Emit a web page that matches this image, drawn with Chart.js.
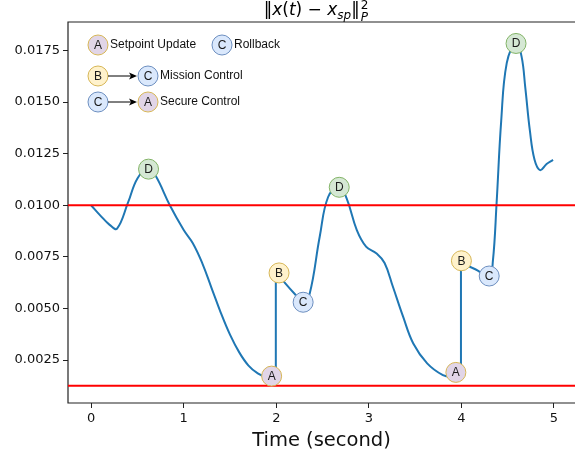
<!DOCTYPE html>
<html>
<head>
<meta charset="utf-8">
<script src="https://cdn.jsdelivr.net/npm/chart.js@4/dist/chart.umd.min.js"></script>
<style>
    html, body { margin: 0; padding: 0; background: #fff; }
    canvas { display: block; }
</style>
</head>
<body>
<canvas id="errChart" width="575" height="457"></canvas>
<script>
// curve: time (s) and ||x(t) - x_sp||^2_P
const timeS = [0, 0.1, 0.2, 0.28, 0.4, 0.5, 0.62, 0.7, 0.85, 1.0, 1.1, 1.2, 1.3, 1.4, 1.5, 1.6, 1.7, 1.8, 1.9, 1.99,
    1.995, 2.1, 2.2, 2.29, 2.36, 2.47, 2.56, 2.68, 2.76, 2.87, 2.97, 3.08, 3.17, 3.26, 3.37, 3.48, 3.63, 3.8, 3.9, 3.99,
    3.995, 4.15, 4.3, 4.34, 4.38, 4.43, 4.49, 4.59, 4.65, 4.69, 4.74, 4.79, 4.85, 4.92, 4.99];
const errNorm = [0.0100, 0.0095, 0.00905, 0.00887, 0.01015, 0.0113, 0.0118, 0.0114, 0.0100, 0.0088, 0.00815, 0.0072, 0.0060, 0.0048, 0.00373, 0.00287, 0.00223, 0.00185, 0.00165, 0.0016,
    0.0068, 0.0062, 0.0057, 0.0053, 0.0057, 0.0085, 0.0104, 0.0109, 0.01033, 0.0088, 0.0080, 0.00767, 0.0072, 0.00605, 0.0046, 0.0033, 0.00234, 0.00177, 0.0017, 0.0018,
    0.0072, 0.0069, 0.00657, 0.0073, 0.0101, 0.0141, 0.0169, 0.0179, 0.0172, 0.0157, 0.0136, 0.0122, 0.0117, 0.0120, 0.0122];

// event markers
const markerT = [0.62, 1.95, 2.03, 2.29, 2.68, 3.94, 4.00, 4.30, 4.59];
const markerV = [0.01175, 0.00172, 0.00672, 0.00530, 0.01087, 0.00190, 0.00731, 0.00657, 0.01784];
const markerLetters = ["D", "A", "B", "C", "D", "A", "B", "C", "D"];

const thresholds = [0.01, 0.00125];
const xTicks = [0, 1, 2, 3, 4, 5];
const yTicks = [0.0025, 0.0050, 0.0075, 0.0100, 0.0125, 0.0150, 0.0175];

const letterFill = { A: "#e1d5e7", B: "#fff2cc", C: "#dae8fc", D: "#d5e8d4" };
const letterStroke = { A: "#d6b656", B: "#d6b656", C: "#6c8ebf", D: "#82b366" };

const xMin = -0.25, xMax = 5.227;
const yMin = 0.000417, yMax = 0.01888;

function drawBubble(ctx, x, y, letter) {
    ctx.beginPath();
    ctx.arc(x, y, 10, 0, Math.PI * 2);
    ctx.fillStyle = letterFill[letter];
    ctx.fill();
    ctx.lineWidth = 1;
    ctx.strokeStyle = letterStroke[letter];
    ctx.stroke();
    ctx.fillStyle = "#1a1a1a";
    ctx.font = "12px 'Liberation Sans', Arial, sans-serif";
    ctx.textAlign = "center";
    ctx.textBaseline = "middle";
    ctx.fillText(letter, x, y + 0.5);
}

function drawArrow(ctx, x1, x2, y) {
    ctx.strokeStyle = "#000";
    ctx.fillStyle = "#000";
    ctx.lineWidth = 1;
    ctx.beginPath();
    ctx.moveTo(x1, y);
    ctx.lineTo(x2 - 6, y);
    ctx.stroke();
    ctx.beginPath();
    ctx.moveTo(x2, y);
    ctx.lineTo(x2 - 8, y - 3.5);
    ctx.lineTo(x2 - 6, y);
    ctx.lineTo(x2 - 8, y + 3.5);
    ctx.closePath();
    ctx.fill();
}

const framePlugin = {
    id: "frame",
    beforeDatasetsDraw(chart) {
        const { ctx, chartArea: a } = chart;
        ctx.save();
        ctx.strokeStyle = "#222";
        ctx.lineWidth = 1.2;
        ctx.beginPath();
        ctx.moveTo(a.right + 5, a.top);
        ctx.lineTo(a.left, a.top);
        ctx.lineTo(a.left, a.bottom);
        ctx.lineTo(a.right + 5, a.bottom);
        ctx.stroke();
        ctx.restore();
    }
};

const bubblePlugin = {
    id: "bubbles",
    afterDatasetsDraw(chart) {
        const ctx = chart.ctx;
        const idx = chart.data.datasets.findIndex(d => d.isMarkers);
        const meta = chart.getDatasetMeta(idx);
        ctx.save();
        meta.data.forEach((pt, i) => drawBubble(ctx, pt.x, pt.y, markerLetters[i]));
        ctx.restore();
    }
};

const legendPlugin = {
    id: "eventLegend",
    afterDraw(chart) {
        const { ctx, chartArea: a } = chart;
        const L = a.left, T = a.top;
        ctx.save();
        drawBubble(ctx, L + 30, T + 23, "A");
        drawBubble(ctx, L + 154, T + 23, "C");
        drawBubble(ctx, L + 30, T + 54, "B");
        drawArrow(ctx, L + 40, L + 69, T + 54);
        drawBubble(ctx, L + 80, T + 54, "C");
        drawBubble(ctx, L + 30, T + 80, "C");
        drawArrow(ctx, L + 40, L + 69, T + 80);
        drawBubble(ctx, L + 80, T + 80, "A");
        ctx.fillStyle = "#111";
        ctx.font = "12px 'Liberation Sans', Arial, sans-serif";
        ctx.textAlign = "left";
        ctx.textBaseline = "middle";
        ctx.fillText("Setpoint Update", L + 42, T + 23);
        ctx.fillText("Rollback", L + 166, T + 23);
        ctx.fillText("Mission Control", L + 92, T + 54);
        ctx.fillText("Secure Control", L + 92, T + 80);
        ctx.restore();
    }
};

const titlePlugin = {
    id: "mathTitle",
    afterDraw(chart) {
        const { ctx, chartArea: a } = chart;
        const big = 17, small = 12;
        const fam = "'DejaVu Sans', sans-serif";
        const pieces = [
            { t: "\u2016", it: false, s: big, dy: 0 },
            { t: "x", it: true, s: big, dy: 0 },
            { t: "(", it: false, s: big, dy: 0 },
            { t: "t", it: true, s: big, dy: 0 },
            { t: ")", it: false, s: big, dy: 0 },
            { t: " \u2212 ", it: false, s: big, dy: 0 },
            { t: "x", it: true, s: big, dy: 0 },
            { t: "sp", it: true, s: small, dy: 4 },
            { t: "\u2016", it: false, s: big, dy: 0 }
        ];
        ctx.save();
        ctx.fillStyle = "#000";
        ctx.textBaseline = "alphabetic";
        ctx.textAlign = "left";
        let total = 0;
        pieces.forEach(p => {
            ctx.font = (p.it ? "italic " : "") + p.s + "px " + fam;
            p.w = ctx.measureText(p.t).width;
            total += p.w;
        });
        ctx.font = small + "px " + fam;
        total += ctx.measureText("2").width;
        let x = (a.left + a.right) / 2 - 6 - total / 2;
        const base = 15;
        pieces.forEach(p => {
            ctx.font = (p.it ? "italic " : "") + p.s + "px " + fam;
            ctx.fillText(p.t, x, base + p.dy);
            x += p.w;
        });
        ctx.font = small + "px " + fam;
        ctx.fillText("2", x + 1, base - 6);
        ctx.font = "italic " + small + "px " + fam;
        ctx.fillText("P", x + 1, base + 6);
        ctx.restore();
    }
};

// split the curve into smooth pieces at the jumps, joined by straight vertical segments
const curveSets = [];
let piece = [];
timeS.forEach((t, i) => {
    const pt = { x: t, y: errNorm[i] };
    if (i > 0 && t - timeS[i - 1] < 0.01) {
        curveSets.push(piece);
        curveSets.push([piece[piece.length - 1], pt]);
        piece = [];
    }
    piece.push(pt);
});
curveSets.push(piece);

const lineStyle = {
    showLine: true,
    borderColor: "#1f77b4",
    borderWidth: 2,
    pointRadius: 0,
    order: 2
};

const markerPts = markerT.map((t, i) => ({ x: t, y: markerV[i] }));
const redSets = thresholds.map(th => ({
    data: [{ x: xMin, y: th }, { x: xMax, y: th }],
    showLine: true,
    borderColor: "#ff0000",
    borderWidth: 2,
    pointRadius: 0,
    order: 1
}));

const tickFont = { family: "'DejaVu Sans', sans-serif", size: 13 };

new Chart(document.getElementById("errChart").getContext("2d"), {
    type: "scatter",
    data: {
        datasets: [
            ...curveSets.map(d => Object.assign({ data: d, tension: d.length > 2 ? 0.4 : 0 }, lineStyle)),
            {
                data: markerPts,
                isMarkers: true,
                showLine: false,
                pointRadius: 0,
                order: 0
            },
            ...redSets
        ]
    },
    options: {
        responsive: false,
        animation: false,
        layout: { padding: { top: 22, right: 0, bottom: 0, left: 0 } },
        plugins: {
            legend: { display: false },
            tooltip: { enabled: false },
            title: { display: false }
        },
        scales: {
            x: {
                type: "linear",
                min: xMin,
                max: xMax,
                afterBuildTicks: s => { s.ticks = xTicks.map(v => ({ value: v })); },
                afterFit: s => { s.height = 54; },
                ticks: { color: "#111", font: tickFont, padding: 3, maxRotation: 0 },
                grid: { drawOnChartArea: false, drawTicks: true, tickLength: 5, color: "#222" },
                border: { display: false },
                title: {
                    display: true,
                    text: "Time (second)",
                    color: "#111",
                    font: { family: "'DejaVu Sans', sans-serif", size: 19.5 },
                    padding: { top: 0, bottom: 4 }
                }
            },
            y: {
                type: "linear",
                min: yMin,
                max: yMax,
                afterBuildTicks: s => { s.ticks = yTicks.map(v => ({ value: v })); },
                afterFit: s => { s.width = 68; },
                ticks: {
                    color: "#111",
                    font: tickFont,
                    padding: 3,
                    callback: v => v.toFixed(4)
                },
                grid: { drawOnChartArea: false, drawTicks: true, tickLength: 5, color: "#222" },
                border: { display: false }
            }
        }
    },
    plugins: [framePlugin, bubblePlugin, legendPlugin, titlePlugin]
});
</script>
</body>
</html>
